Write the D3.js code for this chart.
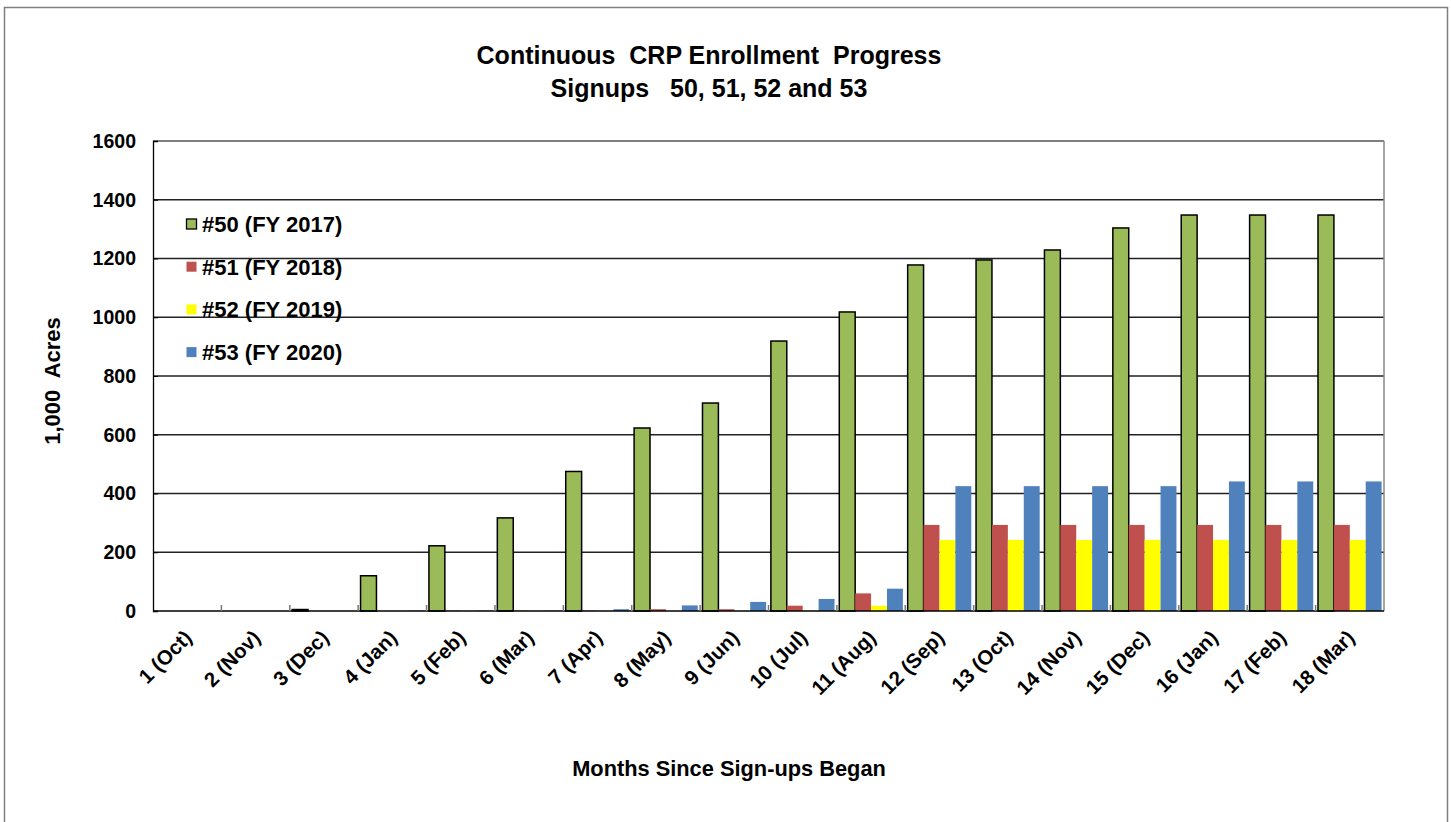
<!DOCTYPE html>
<html>
<head>
<meta charset="utf-8">
<title>Continuous CRP Enrollment Progress</title>
<script src="https://d3js.org/d3.v7.min.js"></script>
<style>
body { margin: 0; background: #fff; }
text { font-family: "Liberation Sans", Arial, sans-serif; font-weight: bold; fill: #000; white-space: pre; }
</style>
</head>
<body>
<div id="chart"></div>
<script>
// data (1,000 acres)
const months = ["1 (Oct)", "2 (Nov)", "3 (Dec)", "4 (Jan)", "5 (Feb)", "6 (Mar)", "7 (Apr)", "8 (May)", "9 (Jun)",
    "10 (Jul)", "11 (Aug)", "12 (Sep)", "13 (Oct)", "14 (Nov)", "15 (Dec)", "16 (Jan)", "17 (Feb)", "18 (Mar)"]
const seriesNames = ["#50 (FY 2017)", "#51 (FY 2018)", "#52 (FY 2019)", "#53 (FY 2020)"]
const signup50 = [0, 0, 5, 120, 222, 317, 475, 623, 708, 919, 1018, 1178, 1195, 1229, 1304, 1348, 1348, 1348]
const signup51 = [0, 0, 0, 0, 1, 1, 1, 6, 6, 18, 60, 293, 293, 293, 293, 293, 293, 293]
const signup52 = [0, 0, 0, 0, 0, 0, 0, 0, 0, 2, 18, 242, 242, 242, 242, 242, 242, 242]
const signup53 = [0, 0, 0, 1, 1, 1, 6, 19, 31, 41, 76, 425, 425, 425, 425, 441, 441, 441]
const yTicks = [0, 200, 400, 600, 800, 1000, 1200, 1400, 1600]
const colors = ["#9BBB59", "#C0504D", "#FFFF00", "#4F81BD"]

const allSeries = [signup50, signup51, signup52, signup53]
const width = 1451, height = 822
const plot = {left: 153, right: 1384, top: 141, bottom: 611}

const svg = d3.select("#chart").append("svg")
    .attr("width", width).attr("height", height)

// outer frame
svg.append("rect")
    .attr("x", 4.5).attr("y", 7.5)
    .attr("width", 1443).attr("height", 830)
    .attr("fill", "#fff").attr("stroke", "#7f7f7f").attr("stroke-width", 1.5)

const x0 = d3.scaleBand().domain(months).range([plot.left, plot.right]).padding(0)
const x1 = d3.scaleBand().domain(d3.range(4)).range([0, x0.bandwidth()])
    .paddingInner(0).paddingOuter(0.15)
const y = d3.scaleLinear().domain([0, 1600]).range([plot.bottom, plot.top])

// gridlines
svg.append("g").selectAll("line")
    .data(yTicks.slice(1, -1))
    .enter().append("line")
    .attr("x1", plot.left).attr("x2", plot.right)
    .attr("y1", d => y(d)).attr("y2", d => y(d))
    .attr("stroke", "#222").attr("stroke-width", 1.4)

// plot frame: top + right
svg.append("line").attr("x1", plot.left).attr("x2", plot.right)
    .attr("y1", plot.top).attr("y2", plot.top).attr("stroke", "#000").attr("stroke-width", 1.2)
svg.append("line").attr("x1", plot.right).attr("x2", plot.right)
    .attr("y1", plot.top).attr("y2", plot.bottom).attr("stroke", "#888").attr("stroke-width", 1.5)

// bars
const groups = svg.append("g").selectAll("g")
    .data(months)
    .enter().append("g")
    .attr("transform", d => `translate(${x0(d)},0)`)

groups.selectAll("rect")
    .data((m, i) => allSeries.map((s, k) => ({k: k, v: s[i]})))
    .enter().append("rect")
    .filter(d => d.v > 0)
    .attr("x", d => x1(d.k))
    .attr("width", x1.bandwidth())
    .attr("y", d => y(d.v))
    .attr("height", d => y(0) - y(d.v))
    .attr("fill", d => colors[d.k])
    .attr("stroke", d => d.k === 0 ? "#000" : "none")
    .attr("stroke-width", 1.5)

// y axis
const yAxis = d3.axisLeft(y).tickValues(yTicks).tickFormat(d3.format("d")).tickSize(-5).tickPadding(17)
const yg = svg.append("g").attr("transform", `translate(${plot.left},0)`).call(yAxis)
yg.select(".domain").attr("stroke", "#000").attr("stroke-width", 1.3)
yg.selectAll(".tick line").attr("stroke", "#000")
yg.selectAll("text").style("font-size", "19.5px").attr("fill", "#000")

// x axis baseline and category ticks
svg.append("line").attr("x1", plot.left).attr("x2", plot.right)
    .attr("y1", plot.bottom).attr("y2", plot.bottom).attr("stroke", "#000").attr("stroke-width", 1.5)
svg.append("g").selectAll("line")
    .data(months.slice(1))
    .enter().append("line")
    .attr("x1", d => x0(d)).attr("x2", d => x0(d))
    .attr("y1", plot.bottom).attr("y2", plot.bottom - 6)
    .attr("stroke", "#777").attr("stroke-width", 1.5)

svg.append("g").selectAll("text")
    .data(months)
    .enter().append("text")
    .attr("transform", d => `translate(${x0(d) + x0.bandwidth() / 2 + 6},639) rotate(-45)`)
    .attr("text-anchor", "end")
    .style("font-size", "20.5px")
    .text(d => d)

// titles
svg.append("text").attr("x", 709).attr("y", 64).attr("text-anchor", "middle")
    .style("font-size", "25px").text("Continuous  CRP Enrollment  Progress")
svg.append("text").attr("x", 709).attr("y", 97).attr("text-anchor", "middle")
    .style("font-size", "25px").text("Signups   50, 51, 52 and 53")

svg.append("text")
    .attr("transform", "translate(60,381) rotate(-90)")
    .attr("text-anchor", "middle")
    .style("font-size", "22px").text("1,000  Acres")

svg.append("text").attr("x", 729).attr("y", 776).attr("text-anchor", "middle")
    .style("font-size", "21.8px").text("Months Since Sign-ups Began")

// legend
const legend = svg.append("g").selectAll("g")
    .data(seriesNames)
    .enter().append("g")
    .attr("transform", (d, i) => `translate(186,${224 + i * 42.7})`)
legend.append("rect")
    .attr("x", 0.5).attr("y", -5).attr("width", 10).attr("height", 10)
    .attr("fill", (d, i) => colors[i])
    .attr("stroke", (d, i) => i === 0 ? "#000" : "none").attr("stroke-width", 1.3)
legend.append("text")
    .attr("x", 16).attr("y", 8)
    .style("font-size", "22px")
    .text(d => d)
</script>
</body>
</html>
